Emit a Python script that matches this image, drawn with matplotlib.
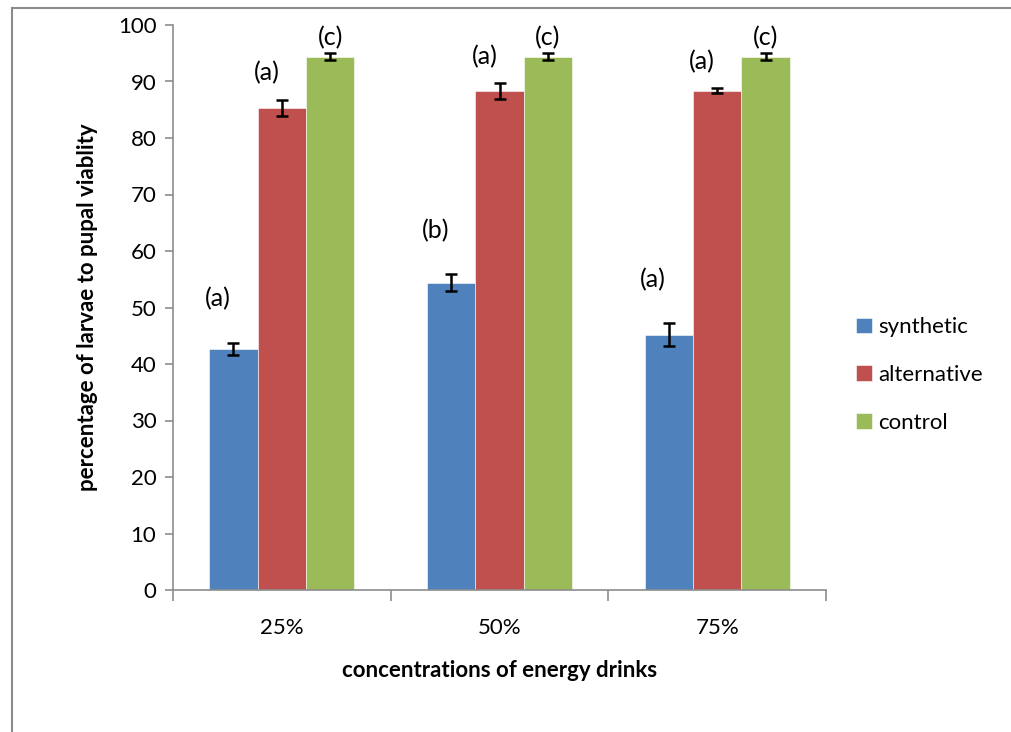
import numpy as np
import matplotlib
matplotlib.use("Agg")
import matplotlib.pyplot as plt
from matplotlib.lines import Line2D

plt.rcParams['font.family'] = ['Lato', 'DejaVu Sans']

# data
concentrations = ['25%', '50%', '75%']
series = ['synthetic', 'alternative', 'control']
synthetic = [42.7, 54.4, 45.2]
synthetic_err = [1.1, 1.5, 2.0]
alternative = [85.3, 88.3, 88.4]
alternative_err = [1.4, 1.4, 0.4]
control = [94.4, 94.4, 94.4]
control_err = [0.6, 0.6, 0.6]
letters_synthetic = ['(a)', '(b)', '(a)']
letters_alternative = ['(a)', '(a)', '(a)']
letters_control = ['(c)', '(c)', '(c)']

colors = ['#4f81bd', '#c0504d', '#9bbb59']
values = [synthetic, alternative, control]
errors = [synthetic_err, alternative_err, control_err]
letters = [letters_synthetic, letters_alternative, letters_control]
# label offsets in pixels (dx, dy above the error bar top)
label_off = [(-16, 44), (-15, 27), (0, 16)]

W, H = 1011, 732
fig = plt.figure(figsize=(W / 100, H / 100), dpi=100)
ax = fig.add_axes([173 / W, (H - 590) / H, (826 - 173) / W, (590 - 25) / H])

# chart area border (gray, runs off right and bottom)
fig.add_artist(Line2D([12 / W, 1.0], [(H - 8) / H] * 2, color='#8c8c8c', lw=1.5))
fig.add_artist(Line2D([12 / W] * 2, [0, (H - 8) / H], color='#8c8c8c', lw=1.5))

x = np.arange(len(concentrations))
bw = 1 / 4.5
for i, (vals, errs, col, name) in enumerate(zip(values, errors, colors, series)):
    xs = x + (i - 1) * bw
    ax.bar(xs, vals, bw, color=col, label=name, edgecolor='white', linewidth=0.4)
    ax.errorbar(xs, vals, yerr=errs, fmt='none', ecolor='black', elinewidth=1.8,
                capsize=4.5, capthick=1.8)
    dx, dy = label_off[i]
    for xx, v, e, t in zip(xs, vals, errs, letters[i]):
        ax.annotate(t, (xx, v + e), xytext=(dx, dy), textcoords='offset pixels',
                    ha='center', va='center', fontsize=18)

ax.set_xlim(-0.5, 2.5)
ax.set_ylim(0, 100)
ax.set_yticks(np.arange(0, 101, 10))
ax.set_xticks([-0.5, 0.5, 1.5, 2.5])
ax.set_xticklabels([])
ax.set_xticks(x, minor=True)
ax.set_xticklabels(concentrations, minor=True)
ax.tick_params(axis='x', which='minor', length=0, pad=20, labelsize=16)
ax.tick_params(axis='x', which='major', length=8, color='#8c8c8c', width=1.2)
ax.tick_params(axis='y', length=6, color='#8c8c8c', width=1.2, labelsize=16, pad=6)

for s in ['top', 'right']:
    ax.spines[s].set_visible(False)
for s in ['left', 'bottom']:
    ax.spines[s].set_color('#8c8c8c')
    ax.spines[s].set_linewidth(1.2)

ax.set_xlabel('concentrations of energy drinks', fontsize=16, fontweight='bold', labelpad=16)
ax.set_ylabel('percentage of larvae to pupal viablity', fontsize=16, fontweight='bold', labelpad=14)

ax.legend(loc='upper left', bbox_to_anchor=(845 / W, 1 - 306 / H), bbox_transform=fig.transFigure,
          frameon=False, fontsize=16, handlelength=0.7, handleheight=0.7,
          handletextpad=0.3, labelspacing=1.25, borderpad=0)

fig.savefig('out.png', dpi=100)
